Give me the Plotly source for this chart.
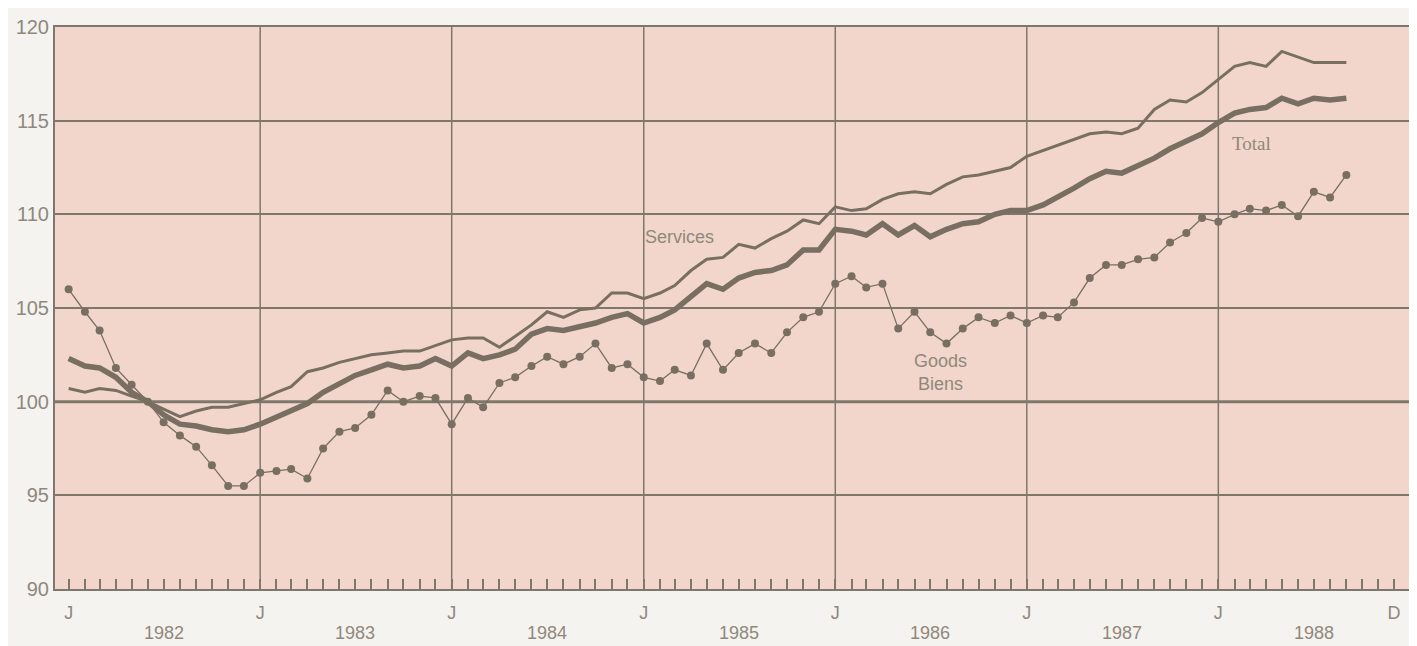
import pandas as pd
import plotly.graph_objects as go

# monthly index values, Jan 1982 - Sep 1988
months = pd.date_range("1982-01-01", periods=81, freq="MS")

total = [
    102.3, 101.9, 101.8, 101.3, 100.5, 100.0, 99.3, 98.8, 98.7, 98.5, 98.4, 98.5,
    98.8, 99.2, 99.5, 99.9, 100.5, 101.0, 101.4, 101.7, 102.0, 101.8, 101.9, 102.3,
    101.9, 102.6, 102.3, 102.5, 102.8, 103.6, 103.9, 103.8, 104.0, 104.2, 104.5, 104.7,
    104.2, 104.5, 104.9, 105.6, 106.3, 106.0, 106.6, 106.9, 107.0, 107.3, 108.1, 108.1,
    109.2, 109.1, 108.9, 109.5, 108.9, 109.4, 108.8, 109.2, 109.5, 109.6, 110.0, 110.2,
    110.2, 110.5, 110.9, 111.4, 111.9, 112.3, 112.2, 112.6, 113.0, 113.5, 113.9, 114.3,
    114.9, 115.4, 115.6, 115.7, 116.2, 115.9, 116.2, 116.1, 116.2,
]

services = [
    100.7, 100.5, 100.7, 100.6, 100.3, 100.0, 99.6, 99.2, 99.5, 99.7, 99.7, 99.9,
    100.1, 100.5, 100.8, 101.6, 101.8, 102.1, 102.3, 102.5, 102.6, 102.7, 102.7, 103.0,
    103.3, 103.4, 103.4, 102.9, 103.5, 104.1, 104.8, 104.5, 104.9, 105.0, 105.8, 105.8,
    105.5, 105.8, 106.2, 107.0, 107.6, 107.7, 108.4, 108.2, 108.7, 109.1, 109.7, 109.5,
    110.4, 110.2, 110.3, 110.8, 111.1, 111.2, 111.1, 111.6, 112.0, 112.1, 112.3, 112.5,
    113.1, 113.4, 113.7, 114.0, 114.3, 114.4, 114.3, 114.6, 115.6, 116.1, 116.0, 116.5,
    117.2, 117.9, 118.1, 117.9, 118.7, 118.4, 118.1, 118.1, 118.1,
]

goods = [
    106.0, 104.8, 103.8, 101.8, 100.9, 100.0, 98.9, 98.2, 97.6, 96.6, 95.5, 95.5,
    96.2, 96.3, 96.4, 95.9, 97.5, 98.4, 98.6, 99.3, 100.6, 100.0, 100.3, 100.2,
    98.8, 100.2, 99.7, 101.0, 101.3, 101.9, 102.4, 102.0, 102.4, 103.1, 101.8, 102.0,
    101.3, 101.1, 101.7, 101.4, 103.1, 101.7, 102.6, 103.1, 102.6, 103.7, 104.5, 104.8,
    106.3, 106.7, 106.1, 106.3, 103.9, 104.8, 103.7, 103.1, 103.9, 104.5, 104.2, 104.6,
    104.2, 104.6, 104.5, 105.3, 106.6, 107.3, 107.3, 107.6, 107.7, 108.5, 109.0, 109.8,
    109.6, 110.0, 110.3, 110.2, 110.5, 109.9, 111.2, 110.9, 112.1,
]

years = [1982, 1983, 1984, 1985, 1986, 1987, 1988]

line_col = "#786f62"
grid_col = "#7f776b"
text_col = "#8f887c"

fig = go.Figure()

fig.add_trace(go.Scatter(x=months, y=services, mode="lines",
                         line=dict(color=line_col, width=3), showlegend=False))
fig.add_trace(go.Scatter(x=months, y=total, mode="lines",
                         line=dict(color=line_col, width=5.5), showlegend=False))
fig.add_trace(go.Scatter(x=months, y=goods, mode="lines+markers",
                         line=dict(color=line_col, width=1.3),
                         marker=dict(color=line_col, size=8), showlegend=False))

# January grid lines (not for the first year)
for yr in years[1:]:
    fig.add_vline(x=pd.Timestamp(f"{yr}-01-01"), line=dict(color=grid_col, width=1.5), layer="below")

# base line at 100
fig.add_hline(y=100, line=dict(color=grid_col, width=3), layer="below")

# month ticks and labels
all_months = pd.date_range("1982-01-01", "1988-12-01", freq="MS")
tick_text = []
for m in all_months:
    if m.month == 1:
        tick_text.append("J")
    elif m == all_months[-1]:
        tick_text.append("D")
    else:
        tick_text.append("")

for yr in years:
    fig.add_annotation(x=pd.Timestamp(f"{yr}-07-01"), y=-0.0785, xref="x", yref="paper",
                       text=str(yr), showarrow=False,
                       font=dict(size=18, color=text_col), yanchor="middle")

fig.add_annotation(x=pd.Timestamp("1985-03-10"), y=108.8, text="Services", showarrow=False,
                   font=dict(size=18, color=text_col))
fig.add_annotation(x=pd.Timestamp("1988-03-05"), y=113.8, text="Total", showarrow=False,
                   font=dict(size=19, color=text_col, family="Liberation Serif"))
fig.add_annotation(x=pd.Timestamp("1986-07-21"), y=101.55, text="Goods<br>Biens", showarrow=False,
                   font=dict(size=18, color=text_col))

# page body adds 8px, so margins are shifted to compensate
fig.update_layout(
    width=1417,
    height=646,
    margin=dict(l=45, r=12, t=8, b=65),
    paper_bgcolor="#f5f3ef",
    plot_bgcolor="#f2d6cb",
    font=dict(family="Liberation Sans, Arial, sans-serif", color=text_col),
    xaxis=dict(
        range=[pd.Timestamp("1981-12-06"), pd.Timestamp("1989-01-06")],
        tickmode="array",
        tickvals=list(all_months),
        ticktext=tick_text,
        ticks="inside",
        ticklen=10,
        tickwidth=1.5,
        tickcolor=grid_col,
        showgrid=False,
        showline=True,
        linecolor=grid_col,
        linewidth=2,
        mirror=True,
        tickfont=dict(size=18, color=text_col),
        ticklabelstandoff=6,
        zeroline=False,
    ),
    yaxis=dict(
        range=[90, 120],
        tickvals=[90, 95, 100, 105, 110, 115, 120],
        showgrid=True,
        gridcolor=grid_col,
        gridwidth=1.5,
        showline=True,
        linecolor=grid_col,
        linewidth=2,
        mirror=True,
        ticks="",
        tickfont=dict(size=20, color=text_col),
        ticklabeloverflow="allow",
        zeroline=False,
    ),
)

fig.write_html("out.html")
